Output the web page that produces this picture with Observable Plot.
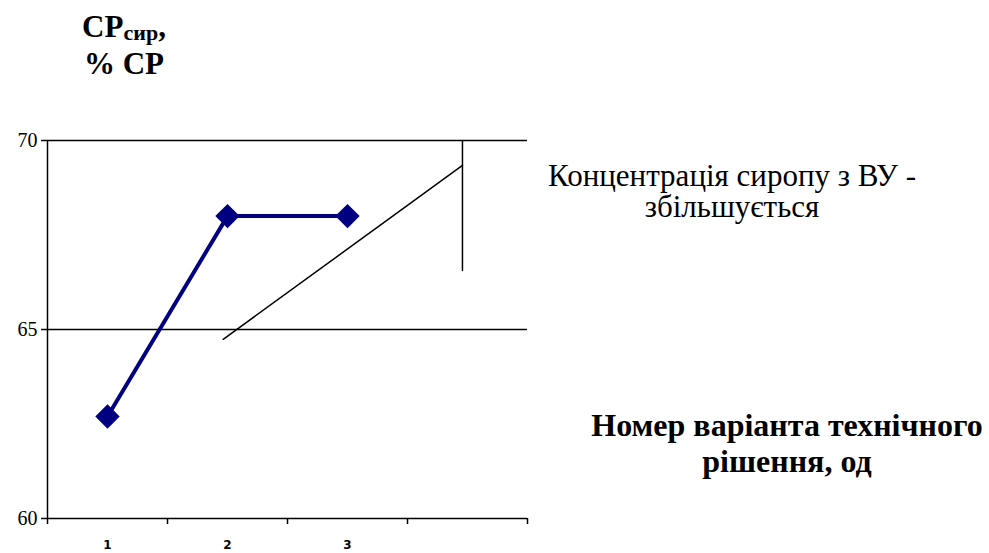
<!DOCTYPE html>
<html>
<head>
<meta charset="utf-8">
<script src="https://cdn.jsdelivr.net/npm/d3@7"></script>
<script src="https://cdn.jsdelivr.net/npm/@observablehq/plot@0.6"></script>
<style>
  body { margin: 0; background: #fff; }
  #wrap { position: relative; width: 989px; height: 553px; overflow: hidden; }
  .note { position: absolute; color: #000; text-align: center; white-space: nowrap; }
  .ttl { left: 24px; width: 200px; font-size: 31px; font-weight: bold; line-height: 37px; }
  .ttl sub { font-size: 22px; vertical-align: baseline; position: relative; top: 3px; }
  .rmk { left: 532px; width: 400px; font-size: 31px; line-height: 31px; }
  .xtl { left: 587px; width: 400px; font-size: 32px; font-weight: bold; line-height: 36px; }
</style>
</head>
<body>
<div id="wrap"></div>
<script>
// Solution variants and syrup concentration (% dry matter)
const variants = [1, 2, 3];
const concentration = [62.7, 68.0, 68.0];

// Axis settings
const yTicks = [60, 65, 70];
const gridLevels = [65, 70];
const xBoundaries = [0.5, 1.5, 2.5, 3.5, 4.5];
const xLabels = ["1", "2", "3"];

// Trend arrow sketch: slanted stroke and vertical bar (variant, % СР)
const trendX = [1.964, 3.958];
const trendY = [64.74, 69.34];
const barX = [3.958, 3.958];
const barY = [70, 66.56];

// Text blocks
const yTitle = ["СР<sub>сир</sub>,", "% СР"];
const remark = ["Концентрація сиропу з ВУ -", "збільшується"];
const xTitle = ["Номер варіанта технічного", "рішення, од"];

const SERIF = "'Liberation Serif', 'Times New Roman', Times, serif";

function draw() {
  const wrap = document.getElementById("wrap");
  const points = variants.map((v, i) => ({x: v, y: concentration[i]}));
  const trend = trendX.map((x, i) => ({x, y: trendY[i]}));
  const bar = barX.map((x, i) => ({x, y: barY[i]}));

  const chart = Plot.plot({
    width: 989,
    height: 553,
    marginLeft: 47,
    marginRight: 462,
    marginTop: 140,
    marginBottom: 35,
    style: {background: "#fff", color: "#000", overflow: "visible"},
    x: {type: "linear", domain: [0.5, 4.5]},
    y: {domain: [60, 70]},
    marks: [
      Plot.ruleY(gridLevels, {stroke: "#000", strokeWidth: 1.3}),
      Plot.ruleY([60], {stroke: "#000", strokeWidth: 1.5}),
      Plot.ruleX([0.5], {stroke: "#000", strokeWidth: 1.5}),
      Plot.axisY(yTicks, {
        tickSize: 6, tickPadding: 4, strokeWidth: 1.5,
        fontFamily: "Liberation Serif", fontSize: 20, label: null
      }),
      Plot.axisX(xBoundaries, {tickSize: 6, strokeWidth: 1.5, tickFormat: () => "", label: null}),
      Plot.axisX([1, 2, 3], {
        tickSize: 0, tickPadding: 22, tickFormat: (d) => xLabels[d - 1],
        fontFamily: "DejaVu Sans", fontSize: 12, fontWeight: "bold", label: null
      }),
      Plot.line(trend, {x: "x", y: "y", stroke: "#000", strokeWidth: 1.5}),
      Plot.line(bar, {x: "x", y: "y", stroke: "#000", strokeWidth: 1.5}),
      Plot.line(points, {x: "x", y: "y", stroke: "#000080", strokeWidth: 4}),
      Plot.dot(points, {x: "x", y: "y", symbol: "diamond2", r: 11, fill: "#000080", stroke: "none"})
    ]
  });
  wrap.append(chart);

  // One absolutely placed line of text per entry
  const addLines = (lines, cls, tops) => lines.forEach((t, i) => {
    const d = document.createElement("div");
    d.className = "note " + cls;
    d.style.top = tops[i] + "px";
    d.innerHTML = t;
    wrap.append(d);
  });
  addLines(yTitle, "ttl", [8, 45]);
  addLines(remark, "rmk", [160, 191]);
  addLines(xTitle, "xtl", [407, 443]);
  applySerif();
}

// Serif family set as an inline, important declaration on every serif text
function applySerif() {
  document.querySelectorAll(".note, .note sub").forEach((d) => {
    d.style.setProperty("font-family", SERIF, "important");
  });
  document.querySelectorAll("#wrap svg [font-family]").forEach((el) => {
    if (el.getAttribute("font-family").includes("Liberation")) {
      el.style.setProperty("font-family", SERIF, "important");
      el.querySelectorAll("text").forEach((t) => t.style.setProperty("font-family", SERIF, "important"));
    }
  });
  void document.body.offsetHeight;
}

draw();
setTimeout(applySerif, 300);
setTimeout(applySerif, 700);
</script>
</body>
</html>
